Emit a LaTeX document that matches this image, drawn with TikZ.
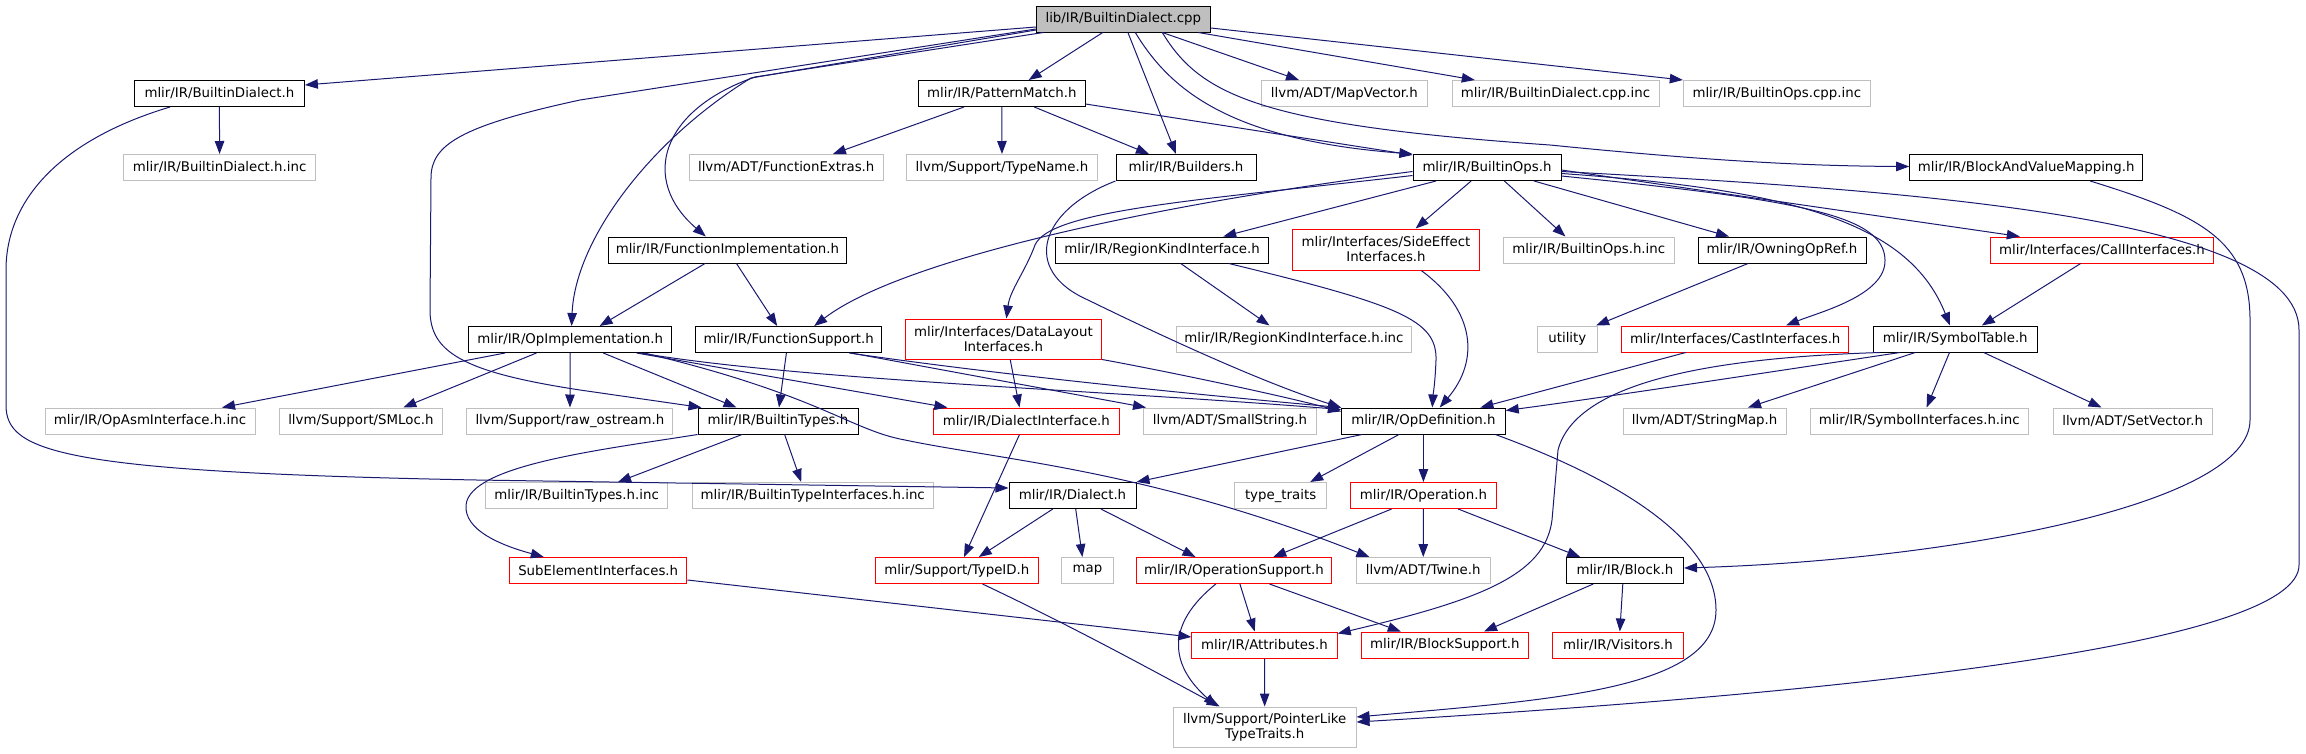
\documentclass[tikz,border=0pt]{standalone}
\usepackage{fontspec}
\setmainfont{DejaVu Sans}
\usetikzlibrary{arrows.meta}
\definecolor{edgecol}{HTML}{191970}
\definecolor{greybd}{HTML}{BFBFBF}
\definecolor{rootfill}{HTML}{BFBFBF}
\definecolor{redbd}{HTML}{FF0000}
\begin{document}
\begin{tikzpicture}[x=1pt,y=-1pt,
  nb/.style={rectangle, inner xsep=2pt, inner ysep=0pt, minimum height=26pt, line width=1pt, font=\fontsize{13.33pt}{15pt}\selectfont, align=center, text=black},
  hdr/.style={nb, draw=black},
  ext/.style={nb, draw=greybd},
  trn/.style={nb, draw=redbd},
  rootn/.style={nb, draw=black, fill=rootfill},
  dep/.style={draw=edgecol, line width=1pt, -{Triangle[length=13pt,width=9.5pt]}},
]
\useasboundingbox (0,0) rectangle (2306,753);

% ---------- nodes ----------
\node[rootn, minimum width=174pt] (root) at (1123.3,19) {lib/IR/BuiltinDialect.cpp};
\node[hdr, minimum width=170pt] (bdh) at (219.4,93.5) {mlir/IR/BuiltinDialect.h};
\node[ext, minimum width=192pt] (bdhinc) at (219.6,167.5) {mlir/IR/BuiltinDialect.h.inc};
\node[hdr, minimum width=166.5pt] (pm) at (1001.8,93.5) {mlir/IR/PatternMatch.h};
\node[ext, minimum width=166pt] (mapv) at (1344.4,93.5) {llvm/ADT/MapVector.h};
\node[ext, minimum width=207pt] (bdcpp) at (1555.5,93.5) {mlir/IR/BuiltinDialect.cpp.inc};
\node[ext, minimum width=187pt] (bopscpp) at (1776.8,93.5) {mlir/IR/BuiltinOps.cpp.inc};
\node[ext, minimum width=194.4pt] (fext) at (786.2,167.5) {llvm/ADT/FunctionExtras.h};
\node[ext, minimum width=191.3pt] (tname) at (1002,167.5) {llvm/Support/TypeName.h};
\node[hdr, minimum width=140pt] (bld) at (1186,167.5) {mlir/IR/Builders.h};
\node[hdr, minimum width=148pt] (bops) at (1487,167.5) {mlir/IR/BuiltinOps.h};
\node[hdr, minimum width=233pt] (bavm) at (2026.2,167.5) {mlir/IR/BlockAndValueMapping.h};
\node[hdr, minimum width=238.7pt] (fimpl) at (727.4,250) {mlir/IR/FunctionImplementation.h};
\node[hdr, minimum width=212.7pt] (rki) at (1162,250) {mlir/IR/RegionKindInterface.h};
\node[trn, minimum width=187pt, minimum height=41pt] (sei) at (1386,249.5) {mlir/Interfaces/SideEffect\\Interfaces.h};
\node[ext, minimum width=171pt] (bopsinc) at (1588.8,250) {mlir/IR/BuiltinOps.h.inc};
\node[hdr, minimum width=168pt] (oor) at (1782,250) {mlir/IR/OwningOpRef.h};
\node[trn, minimum width=223pt] (call) at (2102,250) {mlir/Interfaces/CallInterfaces.h};
\node[hdr, minimum width=203pt] (opimpl) at (570.2,339.5) {mlir/IR/OpImplementation.h};
\node[hdr, minimum width=185.7pt] (fsup) at (788.6,339.5) {mlir/IR/FunctionSupport.h};
\node[trn, minimum width=196.4pt, minimum height=40pt] (dli) at (1003.4,339) {mlir/Interfaces/DataLayout\\Interfaces.h};
\node[ext, minimum width=235pt] (rkiinc) at (1293.9,339) {mlir/IR/RegionKindInterface.h.inc};
\node[ext, minimum width=60.6pt] (util) at (1567.3,339) {utility};
\node[trn, minimum width=227pt] (cast) at (1735.2,339) {mlir/Interfaces/CastInterfaces.h};
\node[hdr, minimum width=164.3pt] (symt) at (1955.2,339) {mlir/IR/SymbolTable.h};
\node[ext, minimum width=210pt] (opasm) at (150,421) {mlir/IR/OpAsmInterface.h.inc};
\node[ext, minimum width=163pt] (smloc) at (360.9,421) {llvm/Support/SMLoc.h};
\node[ext, minimum width=206pt] (rawos) at (569.9,421) {llvm/Support/raw\_ostream.h};
\node[hdr, minimum width=160pt] (btypes) at (778,421) {mlir/IR/BuiltinTypes.h};
\node[trn, minimum width=186pt] (dint) at (1026.4,421) {mlir/IR/DialectInterface.h};
\node[ext, minimum width=173pt] (sstr) at (1230,421) {llvm/ADT/SmallString.h};
\node[hdr, minimum width=163.6pt] (opdef) at (1423.4,421) {mlir/IR/OpDefinition.h};
\node[ext, minimum width=163pt] (smap) at (1704.6,421) {llvm/ADT/StringMap.h};
\node[ext, minimum width=218.5pt] (syminc) at (1919.3,421) {mlir/IR/SymbolInterfaces.h.inc};
\node[ext, minimum width=159pt] (setv) at (2132.6,421) {llvm/ADT/SetVector.h};
\node[ext, minimum width=182pt] (btinc) at (576.6,495.5) {mlir/IR/BuiltinTypes.h.inc};
\node[ext, minimum width=241pt] (btiinc) at (812.7,495.5) {mlir/IR/BuiltinTypeInterfaces.h.inc};
\node[hdr, minimum width=127pt] (dial) at (1072.5,495.5) {mlir/IR/Dialect.h};
\node[ext, minimum width=92.5pt] (ttr) at (1280.6,495.5) {type\_traits};
\node[trn, minimum width=146pt] (oper) at (1423.4,495.5) {mlir/IR/Operation.h};
\node[trn, minimum width=177.5pt] (subel) at (598.2,570.5) {SubElementInterfaces.h};
\node[trn, minimum width=163pt] (tid) at (956.8,570.5) {mlir/Support/TypeID.h};
\node[ext, minimum width=51.4pt] (map) at (1087.4,570.5) {map};
\node[trn, minimum width=195pt] (opsup) at (1233.9,570.5) {mlir/IR/OperationSupport.h};
\node[ext, minimum width=134pt] (twine) at (1423.2,570.5) {llvm/ADT/Twine.h};
\node[hdr, minimum width=117.3pt] (block) at (1624.9,570.5) {mlir/IR/Block.h};
\node[trn, minimum width=145.4pt] (attr) at (1264.5,645) {mlir/IR/Attributes.h};
\node[trn, minimum width=167.3pt] (bsup) at (1444.9,645) {mlir/IR/BlockSupport.h};
\node[trn, minimum width=131pt] (vis) at (1618,645) {mlir/IR/Visitors.h};
\node[ext, minimum width=182.7pt, minimum height=40pt] (ptl) at (1264.7,727) {llvm/Support/PointerLike\\TypeTraits.h};

% ---------- edges ----------
% root
\draw[dep] ([yshift=-8pt]root.west) -- ([yshift=8.5pt]bdh.east);
\draw[dep] ([yshift=-10pt]root.west) -- (580,100) .. controls (460,126) and (431,145) .. (431,178) -- (430,310) .. controls (430,352) and (462,372) .. (580,390) -- ([xshift=4pt]btypes.north west);
\draw[dep] ([yshift=-11pt]root.west) -- (751,78) .. controls (650,140) and (575,240) .. ([xshift=1.4pt]opimpl.north);
\draw[dep] ([xshift=-80pt]root.south) -- (755,77) .. controls (660,110) and (640,180) .. ([xshift=-21.6pt]fimpl.north);
\draw[dep] ([xshift=-20.6pt]root.south) -- ([xshift=26.9pt]pm.north);
\draw[dep] ([xshift=4.6pt]root.south) -- ([xshift=-10pt]bld.north);
\draw[dep] ([xshift=12pt]root.south) .. controls (1170,90) and (1230,140) .. (bops.north west);
\draw[dep] ([xshift=39pt]root.south) .. controls (1200,95) and (1260,125) .. (1550,145) .. controls (1700,160) and (1800,166) .. ([yshift=1pt]bavm.west);
\draw[dep] ([xshift=39pt]root.south) -- ([xshift=-45.4pt]mapv.north);
\draw[dep] ([xshift=75pt]root.south) -- ([xshift=-80.7pt]bdcpp.north);
\draw[dep] ([yshift=-9pt]root.east) -- (bopscpp.north west);
% BuiltinDialect.h
\draw[dep] (bdh) -- (bdhinc);
\draw[dep] ([xshift=-49.4pt]bdh.south) .. controls (60,140) and (6,200) .. (6,270) -- (6,405) .. controls (6,452) and (60,472) .. (477,480) -- ([yshift=7.5pt]dial.west);
% PatternMatch.h
\draw[dep] ([xshift=-37.8pt]pm.south) -- ([xshift=46.7pt]fext.north);
\draw[dep] (pm) -- (tname);
\draw[dep] ([xshift=32.5pt]pm.south) -- ([xshift=-37pt]bld.north);
\draw[dep] ([yshift=-10.5pt]pm.east) -- ([yshift=-1pt]bops.north west);
% Builders.h
\draw[dep] (bld.south west) .. controls (1040,210) and (1020,270) .. (1088,300) .. controls (1180,345) and (1270,385) .. (opdef.north west);
% BuiltinOps.h
\draw[dep] ([yshift=-4pt]bops.west) .. controls (1150,205) and (900,260) .. ([xshift=25.6pt]fsup.north);
\draw[dep] ([yshift=-8pt]bops.west) .. controls (1200,200) and (1050,210) .. (1035,245) .. controls (1025,272) and (1010,290) .. ([xshift=3pt]dli.north);
\draw[dep] ([xshift=-51pt]bops.south) -- ([xshift=61.2pt]rki.north);
\draw[dep] ([xshift=-15.9pt]bops.south) -- ([xshift=29.6pt]sei.north);
\draw[dep] ([xshift=17.4pt]bops.south) -- ([xshift=-23.4pt]bopsinc.north);
\draw[dep] ([xshift=47pt]bops.south) -- ([xshift=-53pt]oor.north);
\draw[dep] ([yshift=-8.5pt]bops.east) .. controls (1800,200) and (1884,215) .. (1885,260) .. controls (1886,295) and (1820,312) .. ([xshift=50.8pt]cast.north);
\draw[dep] ([yshift=-6pt]bops.east) .. controls (1800,190) and (1910,225) .. ([xshift=-5.2pt]symt.north);
\draw[dep] ([yshift=-2.5pt]bops.east) -- ([xshift=-82.2pt]call.north);
\draw[dep] ([yshift=-4pt]bops.east) .. controls (1900,190) and (2299,215) .. (2299,330) -- (2299,565) .. controls (2299,640) and (1900,690) .. ([yshift=5pt]ptl.east);
% BlockAndValueMapping.h
\draw[dep] ([xshift=64pt]bavm.south) .. controls (2200,215) and (2250,240) .. (2250,320) -- (2250,420) .. controls (2250,505) and (1950,560) .. ([yshift=2.5pt]block.east);
% FunctionImplementation.h
\draw[dep] ([xshift=-22.4pt]fimpl.south) -- ([xshift=29.4pt]opimpl.north);
\draw[dep] ([xshift=9.1pt]fimpl.south) -- ([xshift=-11.4pt]fsup.north);
% RegionKindInterface.h
\draw[dep] ([xshift=18.7pt]rki.south) -- ([xshift=-24.4pt]rkiinc.north);
\draw[dep] ([xshift=66.8pt]rki.south) .. controls (1400,305) and (1437,320) .. (1436,360) .. controls (1435,385) and (1433,395) .. ([xshift=8.9pt]opdef.north);
% SideEffectInterfaces.h
\draw[dep] ([xshift=35.2pt]sei.south) .. controls (1475,310) and (1480,360) .. ([xshift=16.3pt]opdef.north);
% OwningOpRef.h
\draw[dep] ([xshift=-34pt]oor.south) -- ([xshift=-2pt]util.north east);
% CallInterfaces.h
\draw[dep] ([xshift=-21.4pt]call.south) -- ([xshift=26.6pt]symt.north);
% OpImplementation.h
\draw[dep] ([xshift=-65.2pt]opimpl.south) -- ([xshift=72pt]opasm.north);
\draw[dep] ([xshift=-33.8pt]opimpl.south) -- ([xshift=42.4pt]smloc.north);
\draw[dep] (opimpl) -- (rawos);
\draw[dep] ([xshift=33.1pt]opimpl.south) -- ([xshift=-41.5pt]btypes.north);
\draw[dep] ([xshift=66.4pt]opimpl.south) -- ([xshift=-79pt]dint.north);
\draw[dep] ([xshift=70pt]opimpl.south) .. controls (800,380) and (1100,390) .. ([yshift=-2pt]opdef.north west);
\draw[dep] ([xshift=74pt]opimpl.south) .. controls (820,395) and (850,430) .. (905,440) .. controls (1000,460) and (1150,470) .. ([xshift=-53.8pt]twine.north);
% FunctionSupport.h
\draw[dep] ([xshift=-2.2pt]fsup.south) -- ([xshift=1pt]btypes.north);
\draw[dep] ([xshift=60.7pt]fsup.south) .. controls (1000,375) and (1200,395) .. (opdef.north west);
\draw[dep] ([xshift=62.4pt]fsup.south) -- ([xshift=3pt]sstr.north west);
% DataLayoutInterfaces.h
\draw[dep] ([xshift=6.8pt]dli.south) -- ([xshift=-6.9pt]dint.north);
\draw[dep] (dli.south east) .. controls (1160,370) and (1280,395) .. ([yshift=-4pt]opdef.north west);
% BuiltinTypes.h
\draw[dep] ([xshift=-36pt]btypes.south) -- ([xshift=41.4pt]btinc.north);
\draw[dep] ([xshift=6.6pt]btypes.south) -- ([xshift=-11.5pt]btiinc.north);
\draw[dep] (btypes.south west) .. controls (600,450) and (470,465) .. (466,505) .. controls (464,530) and (500,545) .. ([xshift=-54.4pt]subel.north);
% DialectInterface.h
\draw[dep] ([xshift=-6.9pt]dint.south) -- ([xshift=7.2pt]tid.north);
% OpDefinition.h
\draw[dep] ([xshift=-61.4pt]opdef.south) -- (dial.north east);
\draw[dep] ([xshift=-24.4pt]opdef.south) -- ([xshift=29.6pt]ttr.north);
\draw[dep] (opdef) -- (oper);
\draw[dep] ([xshift=72pt]opdef.south) .. controls (1620,480) and (1716,540) .. (1716,610) .. controls (1716,690) and (1550,700) .. ([yshift=10pt]ptl.east);
% CastInterfaces.h, SymbolTable.h
\draw[dep] ([xshift=-49.5pt]cast.south) -- ([xshift=57pt]opdef.north);
\draw[dep] ([xshift=-55.2pt]symt.south) .. controls (1750,375) and (1600,398) .. ([yshift=-3pt]opdef.north east);
\draw[dep] ([xshift=-75pt]symt.south) .. controls (1700,358) and (1575,385) .. (1558,450) -- (1552,520) .. controls (1545,575) and (1480,600) .. ([yshift=-2pt]attr.north east);
\draw[dep] ([xshift=-40pt]symt.south) -- ([xshift=43.4pt]smap.north);
\draw[dep] ([xshift=-5.7pt]symt.south) -- ([xshift=7.3pt]syminc.north);
\draw[dep] ([xshift=28.5pt]symt.south) -- ([xshift=-31.1pt]setv.north);
% Dialect.h
\draw[dep] ([xshift=-19.7pt]dial.south) -- ([xshift=22pt]tid.north);
\draw[dep] ([xshift=3.2pt]dial.south) -- ([xshift=-5pt]map.north);
\draw[dep] ([xshift=28.4pt]dial.south) -- ([xshift=-38.4pt]opsup.north);
% Operation.h
\draw[dep] ([xshift=-31.8pt]oper.south) -- ([xshift=39.3pt]opsup.north);
\draw[dep] (oper) -- (twine);
\draw[dep] ([xshift=34.8pt]oper.south) -- ([xshift=-44.7pt]block.north);
% OperationSupport.h
\draw[dep] ([xshift=6pt]opsup.south) -- ([xshift=-9.8pt]attr.north);
\draw[dep] ([xshift=35.6pt]opsup.south) -- ([xshift=-44.1pt]bsup.north);
\draw[dep] ([xshift=-18.1pt]opsup.south) .. controls (1165,625) and (1170,665) .. ([xshift=-48pt]ptl.north);
% Block.h
\draw[dep] ([xshift=-31.7pt]block.south) -- ([xshift=39.1pt]bsup.north);
\draw[dep] ([xshift=-2.1pt]block.south) -- ([xshift=1.8pt]vis.north);
% Attributes.h, TypeID.h, SubElementInterfaces.h
\draw[dep] (attr) -- (ptl);
\draw[dep] ([xshift=25.7pt]tid.south) .. controls (1080,630) and (1170,680) .. ([xshift=-45pt]ptl.north);
\draw[dep] ([yshift=-9.5pt]subel.east) -- ([yshift=8pt]attr.west);
\end{tikzpicture}
\end{document}
